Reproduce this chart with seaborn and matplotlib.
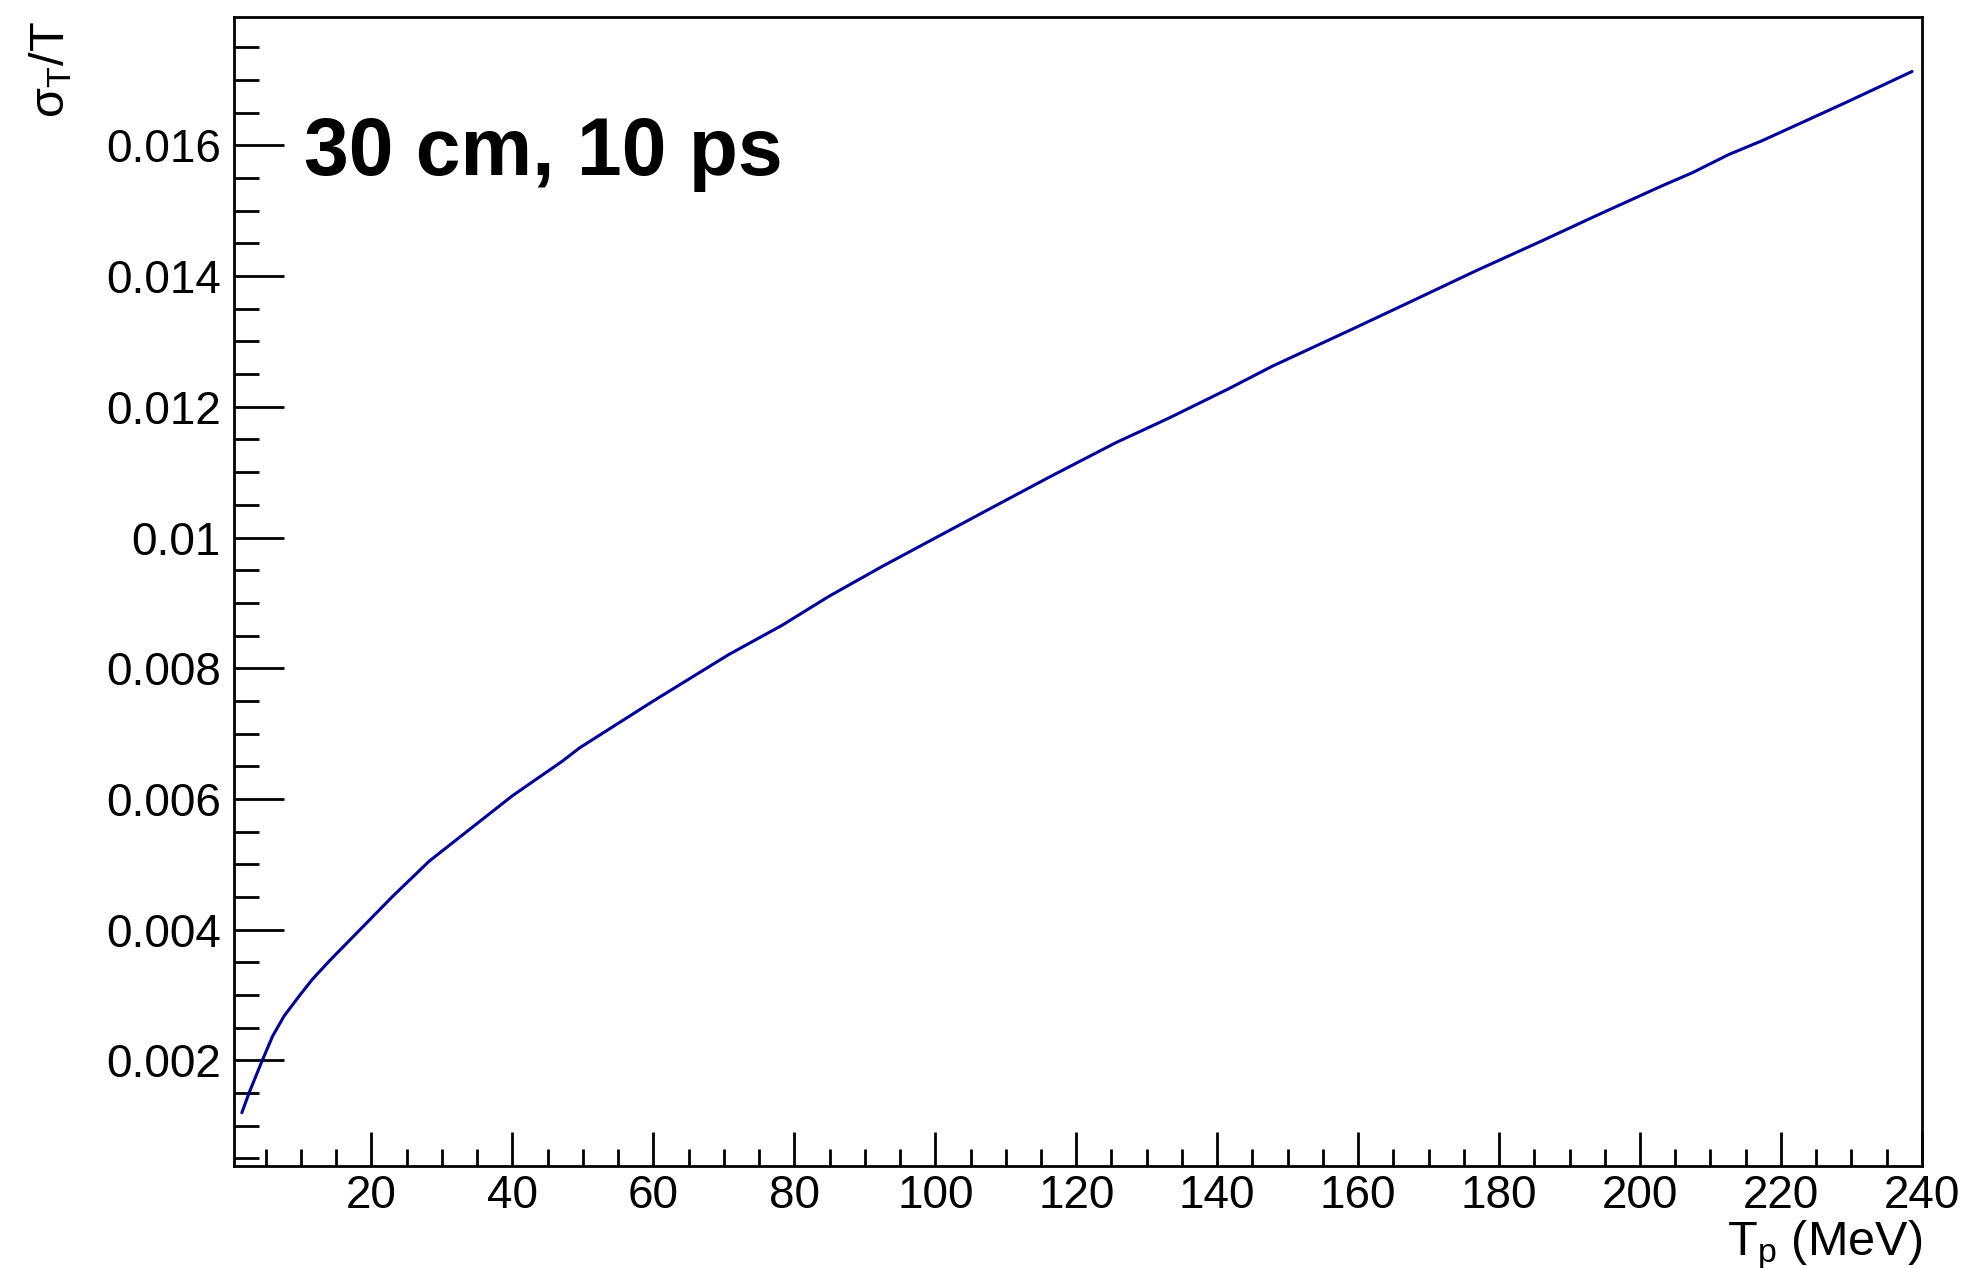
import matplotlib
matplotlib.use('Agg')
import matplotlib.pyplot as plt
from matplotlib.ticker import MultipleLocator, FuncFormatter
import seaborn as sns
import pandas as pd

# Valores: energía cinética del protón y resolución relativa
t_p = [1.6, 2.65, 4.5, 5.96, 7.6, 9.7, 11.6, 14.0, 20.0, 23.0, 28.2, 40.0, 47.1,
       49.5, 60.0, 70.7, 78.3, 84.9, 92.5, 99.6, 106.7, 116.1, 125.6, 133.2, 141.7,
       147.8, 159.6, 166.7, 176.7, 186.1, 193.7, 203.1, 207.4, 212.6, 217.3, 229.1,
       238.6]
sigma_rel = [0.00120, 0.00151, 0.00200, 0.00237, 0.00268, 0.00298, 0.00324, 0.00352,
             0.00418, 0.00451, 0.00505, 0.00605, 0.00658, 0.00678, 0.00750, 0.00821,
             0.00866, 0.00910, 0.00956, 0.00997, 0.01038, 0.01092, 0.01145, 0.01183,
             0.01228, 0.01262, 0.01321, 0.01357, 0.01408, 0.01454, 0.01492, 0.01538,
             0.01558, 0.01586, 0.01607, 0.01665, 0.01713]

x_ticks = [20, 40, 60, 80, 100, 120, 140, 160, 180, 200, 220, 240]
y_ticks = [0.002, 0.004, 0.006, 0.008, 0.010, 0.012, 0.014, 0.016]

df = pd.DataFrame({'T': t_p, 'sigma': sigma_rel})

sns.set_style('white')
plt.rcParams['font.family'] = ['Liberation Sans', 'DejaVu Sans']
plt.rcParams['mathtext.fontset'] = 'custom'
plt.rcParams['mathtext.rm'] = 'Liberation Sans'
plt.rcParams['mathtext.it'] = 'Liberation Sans'
plt.rcParams['text.color'] = 'black'

fig = plt.figure(figsize=(19.72, 12.68), dpi=100)
ax = fig.add_axes([0.1187, 0.0807, 0.8559, 0.9057])

sns.lineplot(data=df, x='T', y='sigma', color='#00009a', linewidth=2.2,
             sort=False, ax=ax)

ax.set_xlim(0.5, 240)
ax.set_ylim(0.00039, 0.01796)

ax.set_xticks(x_ticks)
ax.set_yticks(y_ticks)
ax.xaxis.set_minor_locator(MultipleLocator(5))
ax.yaxis.set_minor_locator(MultipleLocator(0.0005))
ax.yaxis.set_major_formatter(FuncFormatter(lambda v, p: f'{v:g}'))

ax.tick_params(axis='both', which='both', direction='in', color='black',
               labelcolor='black', width=2, labelsize=33,
               bottom=True, left=True, top=False, right=False)
ax.tick_params(axis='y', which='major', length=36, pad=9.5)
ax.tick_params(axis='y', which='minor', length=18)
ax.tick_params(axis='x', which='major', length=24.5, pad=6)
ax.tick_params(axis='x', which='minor', length=12.2)

for s in ax.spines.values():
    s.set_color('black')
    s.set_linewidth(2)

ax.set_xlabel('')
ax.set_ylabel('')

# Títulos de ejes al estilo ROOT
fig.text(0.9746, 0.0103, r'T$_{\rm p}$ (MeV)', ha='right', va='baseline', fontsize=35)
fig.text(0.026, 0.983, r'σ$_{\rm T}$/T', ha='center', va='top', rotation=90, fontsize=35)

fig.text(0.1542, 0.862, '30 cm, 10 ps', ha='left', va='baseline',
         fontsize=58, fontweight='bold')

fig.savefig('out.png', dpi=100, facecolor='white')
